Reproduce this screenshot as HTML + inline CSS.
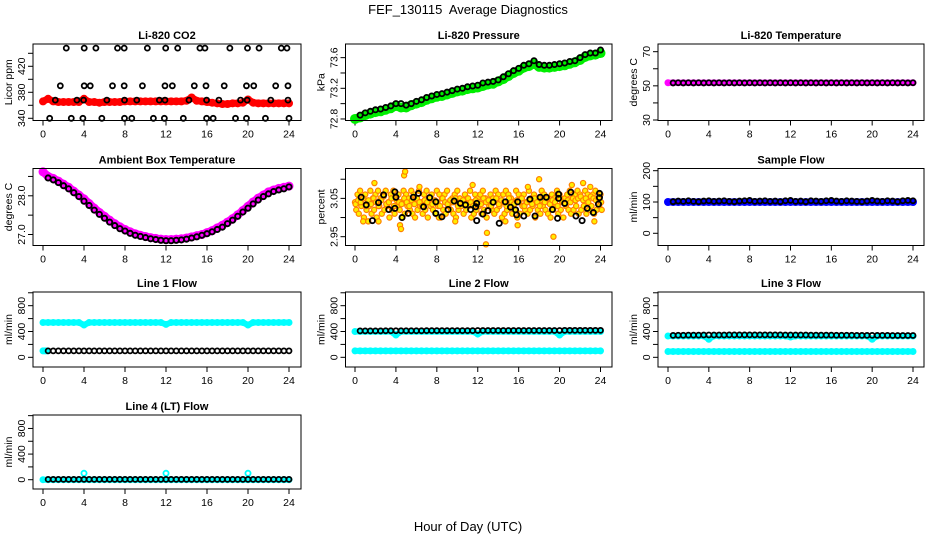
<!DOCTYPE html>
<html><head><meta charset="utf-8"><style>
html,body{margin:0;padding:0;background:#fff;}
svg{display:block;font-family:"Liberation Sans",sans-serif;}
</style></head><body>
<svg id="chart" width="936" height="540" viewBox="0 0 936 540">
<text x="468" y="14" text-anchor="middle" font-size="13">FEF_130115&#160; Average Diagnostics</text>
<text x="468" y="531" text-anchor="middle" font-size="13">Hour of Day (UTC)</text>
</svg>
<script>
// ---- data ----
const xTicks = [0,4,8,12,16,20,24];
const blackHours = [0.5,1,1.5,2,2.5,3,3.5,4,4.5,5,5.5,6,6.5,7,7.5,8,8.5,9,9.5,10,10.5,11,11.5,12,12.5,13,13.5,14,14.5,15,15.5,16,16.5,17,17.5,18,18.5,19,19.5,20,20.5,21,21.5,22,22.5,23,23.5,24];
const denseHours = [0,0.5,1,1.5,2,2.5,3,3.5,4,4.5,5,5.5,6,6.5,7,7.5,8,8.5,9,9.5,10,10.5,11,11.5,12,12.5,13,13.5,14,14.5,15,15.5,16,16.5,17,17.5,18,18.5,19,19.5,20,20.5,21,21.5,22,22.5,23,23.5,24];

// CO2
const co2Red = [366,370,366,365,365,365,365,365,370,365,365,364,365,365,365,365,366,366,366,366,366,366,366,366,366,366,366,366,367,372,367,366,365,364,363,362,362,363,363,364,369,364,363,363,363,363,363,363,363];
const co2H448 = [2.27,4.02,5.16,7.27,7.92,10.18,11.97,13.14,15.31,15.8,18.23,19.95,21.08,23.25,23.8];
const co2H390 = [1.69,4.02,4.61,6.78,7.92,9.7,11.9,12.62,14.76,15.9,17.68,19.85,20.56,22.7,23.9];
const co2H368 = [1.2,3.31,3.96,6.23,7.95,9.15,11.35,11.9,14.24,15.96,17.16,19.27,19.92,22.22,23.9];
const co2H340 = [0.65,2.76,3.89,5.74,7.95,8.66,10.77,11.84,13.69,15.96,16.6,18.78,19.85,21.7,24];
const co2Levels = [448,390,368,340];

// Pressure
const presGreen = [72.80,72.82,72.85,72.87,72.89,72.90,72.92,72.94,72.97,72.95,72.95,72.98,73.00,73.02,73.05,73.07,73.09,73.10,73.12,73.14,73.16,73.17,73.19,73.20,73.21,73.23,73.25,73.26,73.29,73.32,73.36,73.40,73.43,73.47,73.49,73.52,73.48,73.47,73.47,73.48,73.49,73.50,73.52,73.54,73.57,73.61,73.63,73.64,73.66];
const presBlack = [72.85,72.88,72.90,72.92,72.93,72.95,72.97,73.00,73.00,72.98,73.00,73.03,73.05,73.08,73.10,73.12,73.13,73.15,73.17,73.19,73.20,73.22,73.23,73.24,73.27,73.28,73.29,73.31,73.35,73.39,73.43,73.46,73.50,73.52,73.56,73.51,73.50,73.50,73.51,73.52,73.53,73.55,73.56,73.60,73.64,73.66,73.66,73.70];

// Li-820 temperature
const tempMag = [51.8,51.8,51.8,51.8,51.8,51.8,51.8,51.8,51.8,51.8,51.8,51.8,51.8,51.8,51.8,51.8,51.8,51.8,51.8,51.8,51.8,51.8,51.8,51.8,51.8,51.8,51.8,51.8,51.8,51.8,51.8,51.8,51.8,51.8,51.8,51.8,51.8,51.8,51.8,51.8,51.8,51.8,51.8,51.8,51.8,51.8,51.8,51.8,51.8];
const tempBlack = [51.7,51.8,51.7,51.8,51.7,51.8,51.7,51.8,51.7,51.8,51.7,51.8,51.7,51.8,51.7,51.8,51.7,51.8,51.7,51.8,51.7,51.8,51.7,51.8,51.7,51.8,51.7,51.8,51.7,51.8,51.7,51.8,51.7,51.8,51.7,51.8,51.7,51.8,51.7,51.8,51.7,51.8,51.7,51.8,51.7,51.8,51.7,51.8];

// Ambient box temperature
const ambMag = [28.62,28.50,28.45,28.38,28.30,28.22,28.12,28.02,27.92,27.80,27.68,27.57,27.47,27.37,27.28,27.20,27.13,27.07,27.02,26.98,26.95,26.92,26.90,26.88,26.87,26.87,26.88,26.89,26.91,26.94,26.97,27.00,27.05,27.10,27.17,27.24,27.32,27.41,27.51,27.62,27.73,27.84,27.94,28.02,28.10,28.15,28.19,28.22,28.25];
const ambBlack = [28.46,28.41,28.34,28.26,28.18,28.08,27.98,27.86,27.75,27.63,27.52,27.42,27.32,27.23,27.15,27.09,27.03,26.98,26.95,26.92,26.89,26.87,26.85,26.84,26.84,26.85,26.86,26.88,26.91,26.94,26.98,27.02,27.07,27.13,27.19,27.28,27.37,27.47,27.58,27.68,27.79,27.89,27.98,28.05,28.11,28.15,28.18,28.23];

// Gas stream RH
const rhA = [3.04,3.06,3.07,3.05,3.06,3.04,3.07,3.05,3.06,3.07,3.05,3.06,3.07,3.04,3.06,3.07,3.05,3.06,3.04,3.07,3.06,3.05,3.07,3.06,3.05,3.07,3.04,3.06,3.07,3.05,3.06,3.04,3.07,3.06,3.05,3.06,3.07,3.04,3.05,3.06,3.07,3.05,3.04,3.06,3.05,3.07,3.04,3.06,3.05,3.06,3.07,3.05,3.04,3.06,3.05,3.07,3.06,3.04,3.06,3.07,3.06,3.05,3.04,3.07,3.06,3.05,3.06,3.04,3.07,3.05,3.06,3.04,3.05,3.07,3.06,3.05,3.04,3.06,3.05,3.07,3.06,3.04,3.05,3.06,3.07,3.05,3.06,3.07,3.06,3.05,3.07,3.06,3.08,3.06,3.07,3.05,3.06];
const rhB = [3.02,3.01,3.03,3.00,3.02,3.03,3.01,3.02,3.00,3.03,3.01,3.02,3.03,3.00,3.02,3.01,3.03,3.02,3.00,3.01,3.03,3.02,3.01,3.00,3.02,3.03,3.01,3.02,3.00,3.03,3.02,3.01,3.03,3.00,3.02,3.01,3.03,3.02,3.01,3.00,3.02,3.03,3.01,3.02,3.03,3.00,3.01,3.02,3.03,3.01,3.02,3.00,3.03,3.02,3.01,3.02,3.03,3.00,3.01,3.02,3.03,3.01,3.02,3.00,3.01,3.03,3.02,3.01,3.02,3.03,3.00,3.02,3.01,3.03,3.02,3.01,3.00,3.02,3.03,3.01,3.02,3.00,3.03,3.02,3.01,3.02,3.03,3.01,3.02,3.03,3.01,3.02,3.03,3.01,3.02,3.03,3.02];
const rhC = [3.035,3.045,3.04,3.05,3.03,3.045,3.035,3.05,3.04,3.03,3.045,3.055,3.035,3.04,3.05,3.03,3.045,3.04,3.035,3.05,3.04,3.03,3.045,3.035,3.05,3.04,3.03,3.045,3.04,3.05,3.035,3.045,3.04,3.03,3.05,3.04,3.035,3.045,3.04,3.05,3.03,3.04,3.045,3.035,3.05,3.04,3.03,3.045,3.04,3.035,3.05,3.04,3.045,3.03,3.04,3.05,3.035,3.045,3.04,3.03,3.05,3.04,3.035,3.045,3.04,3.05,3.03,3.04,3.045,3.035,3.05,3.04,3.03,3.045,3.04,3.05,3.035,3.045,3.04,3.03,3.05,3.04,3.035,3.045,3.04,3.05,3.045,3.05,3.055,3.045,3.05,3.04,3.055,3.05,3.045,3.05,3.04];
const rhOutH = [0.8,1.3,2.3,4.4,4.5,4.8,4.9,12.8,12.9,18.0,19.4,23.4,1.9,8.2,14.7,15.9,22.3,6.3,9.8,11.5,16.9,21.2];
const rhOutV = [2.99,2.99,2.99,2.98,2.97,3.11,3.12,2.93,2.96,3.10,2.95,2.99,3.09,3.00,2.99,2.98,3.09,3.08,2.99,3.085,3.08,3.085];
const rhBlackH = [0.6,1.1,1.7,2.3,2.8,3.3,3.9,3.9,4.0,4.6,5.2,5.7,6.2,6.7,7.3,7.9,7.9,8.5,9.1,9.7,10.3,10.8,11.3,11.8,11.9,11.9,12.5,13.0,13.5,14.1,14.7,15.2,15.7,15.8,15.9,16.5,17.1,17.6,18.1,18.7,19.3,19.8,19.9,19.9,20.5,21.1,21.6,22.2,22.7,23.3,23.8,23.9,23.9];
const rhBlackV = [3.053,3.033,2.992,3.039,3.059,3.021,3.024,3.067,3.053,3.0,3.011,3.053,3.063,3.028,3.052,3.041,3.011,3.002,3.021,3.043,3.037,3.033,3.021,3.028,2.992,3.037,3.009,3.018,3.04,2.985,3.041,3.027,3.02,3.007,3.041,3.004,3.048,3.004,3.053,3.053,3.021,2.998,3.05,3.061,3.037,3.066,3.004,2.992,3.024,3.013,3.035,3.052,3.063];

// Sample flow
const sfBlue = [100,100,100,100,100,100,100,100,100,100,100,100,100,100,100,100,100,100,100,100,100,100,100,100,100,100,100,100,100,100,100,100,100,100,100,100,100,100,100,100,100,100,100,100,100,100,100,100,100];
const sfBlack = [101,103,102,104,102,101,103,104,102,103,104,102,101,103,104,105,102,103,104,102,103,101,104,105,102,103,101,104,103,102,104,105,103,102,104,103,102,101,103,105,103,102,104,103,101,104,105,104];

// Line flows
const l1CyanHi = [540,540,540,540,540,540,540,540,500,540,540,540,540,540,540,540,540,540,540,540,540,540,540,540,510,540,540,540,540,540,540,540,540,540,540,540,540,540,540,540,500,540,540,540,540,540,540,540,540];
const l1CyanLoH = [0,0.2,0.4];
const l1CyanLo = [100,100,100];
const l1Black = [100,100,100,100,100,100,100,100,100,100,100,100,100,100,100,100,100,100,100,100,100,100,100,100,100,100,100,100,100,100,100,100,100,100,100,100,100,100,100,100,100,100,100,100,100,100,100,100];
const l2CyanHi = [400,400,400,400,400,400,400,400,345,400,400,400,400,400,400,400,400,400,400,400,400,400,400,400,360,400,400,400,400,400,400,400,400,400,400,400,400,400,400,400,345,400,400,400,400,400,400,400,400];
const l2CyanLo = [100,100,100,100,100,100,100,100,100,100,100,100,100,100,100,100,100,100,100,100,100,100,100,100,100,100,100,100,100,100,100,100,100,100,100,100,100,100,100,100,100,100,100,100,100,100,100,100,100];
const l2Black = [410,410,410,410,410,412,412,412,412,412,412,412,412,414,414,414,414,414,414,414,414,414,414,416,416,416,416,416,416,416,416,416,416,416,416,416,416,416,416,416,418,418,418,418,418,418,418,418];
const l3CyanHi = [330,330,330,330,330,330,330,330,280,330,330,330,330,330,330,330,330,330,330,330,330,330,330,330,315,330,330,330,330,330,330,330,330,330,330,330,330,330,330,330,280,330,330,330,330,330,330,330,330];
const l3CyanLo = [90,90,90,90,90,90,90,90,90,90,90,90,90,90,90,90,90,90,90,90,90,90,90,90,90,90,90,90,90,90,90,90,90,90,90,90,90,90,90,90,90,90,90,90,90,90,90,90,90];
const l3Black = [340,342,342,344,344,344,346,346,346,346,346,348,348,348,348,348,348,348,348,348,348,348,346,346,346,346,346,344,344,344,344,344,342,342,342,342,340,340,340,340,340,340,340,338,338,338,338,338];
const l4Cyan = [0,0,0,0,0,0,0,0,0,0,0,0,0,0,0,0,0,0,0,0,0,0,0,0,0,0,0,0,0,0,0,0,0,0,0,0,0,0,0,0,0,0,0,0,0,0,0,0,0];
const l4SpikeH = [4,12,20];
const l4Spike = [100,100,100];
const l4Black = [5,5,5,5,5,5,5,5,5,5,5,5,5,5,5,5,5,5,5,5,5,5,5,5,5,5,5,5,5,5,5,5,5,5,5,5,5,5,5,5,5,5,5,5,5,5,5,5];

// ---- layout ----
const NS = "http://www.w3.org/2000/svg";
const svg = document.getElementById('chart');
const COLS = [{L:33,R:301,x0:43,x24:289},{L:345.5,R:612,x0:355,x24:600.5},{L:658,R:924,x0:668,x24:913}];
const ROWS = [{T:44,B:120.5},{T:168.5,B:245.5},{T:292,B:367},{T:415,B:489}];

function el(tag, attrs, parent){
  const e = document.createElementNS(NS, tag);
  for (const k in attrs) e.setAttribute(k, attrs[k]);
  (parent||svg).appendChild(e);
  return e;
}

function panel(name, c, r, yLo, yHi, yTicks, yLabels, title, ylab){
  const col = COLS[c], row = ROWS[r];
  const g = el('g', {});
  
  
  const sx = h => col.x0 + (col.x24 - col.x0) * h / 24;
  const sy = v => row.B - (v - yLo) / (yHi - yLo) * (row.B - row.T);
  const t = el('text', {x:(col.L+col.R)/2, y:row.T-5, 'text-anchor':'middle', 'font-size':11, 'font-weight':'bold'}, g);
  t.textContent = title;
  
  
  const yl = el('text', {x:0, y:0, 'text-anchor':'middle', 'font-size':10.5, transform:`translate(${col.L-21},${(row.T+row.B)/2}) rotate(-90)`}, g);
  yl.textContent = ylab;
  
  
  const xa = el('g', {stroke:'#000','stroke-width':1}, g);
  
  
  el('line', {x1:sx(xTicks[0]), x2:sx(xTicks[xTicks.length-1]), y1:row.B, y2:row.B}, xa);
  xTicks.forEach(h => {
    el('line', {x1:sx(h), x2:sx(h), y1:row.B, y2:row.B+5}, xa);
    const tl = el('text', {x:sx(h), y:row.B+17, 'text-anchor':'middle', 'font-size':10.5, stroke:'none'}, g);
    tl.textContent = h;
    
    
  });
  const ya = el('g', {stroke:'#000','stroke-width':1}, g);
  
  
  el('line', {x1:col.L, x2:col.L, y1:sy(yTicks[0]), y2:sy(yTicks[yTicks.length-1])}, ya);
  yTicks.forEach(v => el('line', {x1:col.L-5, x2:col.L, y1:sy(v), y2:sy(v)}, ya));
  yLabels.forEach(v => {
    const tl = el('text', {x:0, y:0, 'text-anchor':'middle', 'font-size':10.5, transform:`translate(${col.L-8},${sy(v)}) rotate(-90)`}, g);
    tl.textContent = v;
    
    
  });
  const data = el('g', {}, g);
  
  
  const box = el('rect', {x:col.L, y:row.T, width:col.R-col.L, height:row.B-row.T, fill:'none', stroke:'#000', 'stroke-width':1}, g);
  
  
  return {sx, sy, data};
}

function band(p, hours, vals, color, w, name){
  const d = hours.map((h,i) => (i?'L':'M') + p.sx(h).toFixed(1) + ',' + p.sy(vals[i]).toFixed(1)).join('');
  const path = el('path', {d, fill:'none', stroke:color, 'stroke-width':w, 'stroke-linejoin':'round', 'stroke-linecap':'round'}, p.data);
  
  
  hours.forEach((h,i) => {
    const c = el('circle', {cx:p.sx(h), cy:p.sy(vals[i]), r:w/2+0.5, fill:color}, p.data);
    
    
  });
}

function pts(p, hours, vals, stroke, fill, r, sw, name){
  hours.forEach((h,i) => {
    const c = el('circle', {cx:p.sx(h), cy:p.sy(vals[i]), r, fill, stroke, 'stroke-width':sw}, p.data);
    
    
  });
}

let p = panel('co2', 0, 0, 336.6, 454.3, [340,360,380,400,420,440], [340,380,420], 'Li-820 CO2', 'Licor ppm');
band(p, denseHours, co2Red, '#ff0000', 7, 'co2-red-series');
[co2H448, co2H390, co2H368, co2H340].forEach((hs, k) => pts(p, hs, hs.map(() => co2Levels[k]), '#000', 'none', 2.5, 1.8, 'co2-black-point'));

p = panel('pressure', 1, 0, 72.78, 73.778, [72.8,73.0,73.2,73.4,73.6], ['72.8','73.2','73.6'], 'Li-820 Pressure', 'kPa');
band(p, denseHours, presGreen, '#00ee00', 9, 'pressure-green-series');
pts(p, blackHours, presBlack, '#000', 'none', 2.6, 1.8, 'pressure-black-point');

p = panel('li820-temp', 2, 0, 29.7, 74.5, [30,40,50,60,70], [30,50,70], 'Li-820 Temperature', 'degrees C');
band(p, denseHours, tempMag, '#ff00ff', 6, 'temp-magenta-series');
pts(p, blackHours, tempBlack, '#000', 'none', 2.5, 1.8, 'temp-black-point');

p = panel('ambient', 0, 1, 26.716, 28.705, [27.0,27.5,28.0,28.5], ['27.0','28.0'], 'Ambient Box Temperature', 'degrees C');
band(p, denseHours, ambMag, '#ff00ff', 8, 'ambient-magenta-series');
pts(p, blackHours, ambBlack, '#000', 'none', 2.6, 1.9, 'ambient-black-point');

p = panel('rh', 1, 1, 2.927, 3.128, [2.95,3.00,3.05,3.10], ['2.95','3.05'], 'Gas Stream RH', 'percent');
pts(p, rhA.map((v,i) => i*0.25), rhA, '#ff8000', '#ffee00', 2.6, 1.2, 'rh-yellow-point');
pts(p, rhB.map((v,i) => i*0.25+0.12), rhB, '#ff8000', '#ffee00', 2.6, 1.2, 'rh-yellow-point');
pts(p, rhC.map((v,i) => i*0.25+0.06), rhC, '#ff8000', '#ffee00', 2.6, 1.2, 'rh-yellow-point');
pts(p, rhOutH, rhOutV, '#ff8000', '#ffee00', 2.6, 1.2, 'rh-yellow-point');
pts(p, rhBlackH, rhBlackV, '#000', 'none', 2.6, 1.8, 'rh-black-point');

p = panel('sample-flow', 2, 1, -39, 207, [0,50,100,150,200], [0,100,200], 'Sample Flow', 'ml/min');
band(p, denseHours, sfBlue, '#0000ff', 7, 'sample-flow-blue-series');
pts(p, blackHours, sfBlack, '#000', 'none', 2.5, 1.8, 'sample-flow-black-point');

const flowTicks = [0,200,400,600,800,1000], flowLabels = [0,400,800];
p = panel('line1', 0, 2, -150, 1012, flowTicks, flowLabels, 'Line 1 Flow', 'ml/min');
band(p, denseHours, l1CyanHi, '#00ffff', 6, 'line1-cyan-series');
pts(p, l1CyanLoH, l1CyanLo, '#00ffff', '#00ffff', 3, 1, 'line1-cyan-point');
pts(p, blackHours, l1Black, '#000', 'none', 2.5, 1.8, 'line1-black-point');

p = panel('line2', 1, 2, -150, 1012, flowTicks, flowLabels, 'Line 2 Flow', 'ml/min');
band(p, denseHours, l2CyanHi, '#00ffff', 6, 'line2-cyan-high-series');
band(p, denseHours, l2CyanLo, '#00ffff', 6, 'line2-cyan-low-series');
pts(p, blackHours, l2Black, '#000', 'none', 2.5, 1.8, 'line2-black-point');

p = panel('line3', 2, 2, -150, 1012, flowTicks, flowLabels, 'Line 3 Flow', 'ml/min');
band(p, denseHours, l3CyanHi, '#00ffff', 6, 'line3-cyan-high-series');
band(p, denseHours, l3CyanLo, '#00ffff', 6, 'line3-cyan-low-series');
pts(p, blackHours, l3Black, '#000', 'none', 2.5, 1.8, 'line3-black-point');

p = panel('line4', 0, 3, -145, 1010, flowTicks, flowLabels, 'Line 4 (LT) Flow', 'ml/min');
band(p, denseHours, l4Cyan, '#00ffff', 6, 'line4-cyan-series');
pts(p, l4SpikeH, l4Spike, '#00ffff', 'none', 2.6, 1.8, 'line4-cyan-spike');
pts(p, blackHours, l4Black, '#000', 'none', 2.5, 1.8, 'line4-black-point');
</script>
</body></html>
